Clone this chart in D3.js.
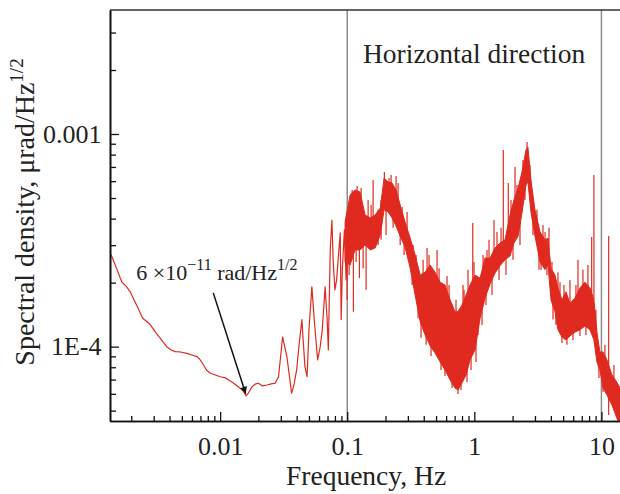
<!DOCTYPE html>
<html>
<head>
<meta charset="utf-8">
<script src="https://cdn.jsdelivr.net/npm/d3@7"></script>
<style>
  body { margin: 0; background: #fff; }
  svg { display: block; font-family: "Liberation Serif", "Times New Roman", serif; }
</style>
</head>
<body>
<svg id="chart" width="620" height="494"></svg>
<script>
// low frequency part of the trace (Hz, urad/Hz^1/2)
var lowHz = [
  1.39e-3, 1.53e-3, 1.68e-3, 1.84e-3, 1.96e-3, 2.2e-3, 2.46e-3, 2.66e-3, 2.82e-3, 3.13e-3,
  3.46e-3, 3.8e-3, 4.12e-3, 4.43e-3, 4.85e-3, 5.5e-3, 6.0e-3, 6.6e-3, 6.97e-3, 7.4e-3,
  7.8e-3, 8.36e-3, 9.15e-3, 0.0100, 0.0110, 0.0123, 0.0133, 0.0144, 0.0152, 0.0160,
  0.0167, 0.0178, 0.0190, 0.0200, 0.0214, 0.0234, 0.0253, 0.0271, 0.0288, 0.0300,
  0.0310, 0.0320, 0.0335, 0.0350, 0.0365, 0.0381, 0.0400, 0.0418, 0.0440, 0.0450,
  0.0465, 0.0483, 0.0500, 0.0527, 0.0550, 0.0585, 0.0613, 0.0636, 0.0670, 0.0695,
  0.0710, 0.0735, 0.0758, 0.0775, 0.0800, 0.0825, 0.0860, 0.0881, 0.0896, 0.0915,
  0.0950, 0.0980, 0.1020
];
var lowPsd = [
  2.70e-4, 2.34e-4, 2.02e-4, 1.91e-4, 1.81e-4, 1.57e-4, 1.36e-4, 1.31e-4, 1.27e-4, 1.16e-4,
  1.075e-4, 1.0e-4, 9.65e-5, 9.47e-5, 9.44e-5, 9.3e-5, 9.14e-5, 8.97e-5, 8.66e-5, 8.2e-5,
  7.77e-5, 7.5e-5, 7.36e-5, 7.22e-5, 7.13e-5, 6.84e-5, 6.6e-5, 6.37e-5, 6.19e-5, 5.86e-5,
  6.05e-5, 6.48e-5, 6.68e-5, 6.73e-5, 6.54e-5, 6.6e-5, 6.68e-5, 6.73e-5, 7.22e-5, 9.14e-5,
  1.11e-4, 1.02e-4, 8.97e-5, 7.36e-5, 6.04e-5, 6.6e-5, 7.77e-5, 1.02e-4, 1.34e-4, 1.075e-4,
  8.05e-5, 7.22e-5, 1.2e-4, 1.91e-4, 1.34e-4, 8.66e-5, 1.0e-4, 1.2e-4, 1.91e-4, 1.34e-4,
  9.65e-5, 2.85e-4, 3.94e-4, 2.56e-4, 1.85e-4, 2.06e-4, 2.85e-4, 3.43e-4, 1.34e-4, 2.3e-4,
  3.54e-4, 2.06e-4, 4.16e-4
];

// noisy part above ~0.1 Hz: lower and upper envelope of the band
var bandHz = [
  0.0962, 0.1054, 0.1153, 0.126, 0.1383, 0.152, 0.1657, 0.182, 0.195, 0.2097,
  0.2254, 0.2423, 0.261, 0.285, 0.313, 0.342, 0.375, 0.41, 0.449, 0.491,
  0.538, 0.588, 0.645, 0.705, 0.744, 0.80, 0.861, 0.925, 1.013, 1.11,
  1.214, 1.33, 1.455, 1.59, 1.743, 1.91, 2.05, 2.21, 2.37, 2.55,
  2.64, 2.79, 3.0, 3.29, 3.60, 3.80, 4.01, 4.31, 4.55, 4.89,
  5.26, 5.66, 6.19, 6.78, 7.42, 8.12, 8.73, 9.22, 9.73, 10.3,
  11.05, 12.1, 13.2, 14.0
];
var bandHi = [
  3.86e-4, 5.17e-4, 5.45e-4, 5.34e-4, 4.16e-4, 4.03e-4, 4.16e-4, 4.49e-4, 6.21e-4, 5.95e-4,
  5.88e-4, 5.45e-4, 4.64e-4, 3.86e-4, 3.24e-4, 2.70e-4, 2.17e-4, 2.24e-4, 2.42e-4, 2.24e-4,
  2.01e-4, 1.95e-4, 1.66e-4, 1.46e-4, 1.46e-4, 1.57e-4, 1.75e-4, 1.95e-4, 2.17e-4, 2.10e-4,
  2.61e-4, 2.61e-4, 2.91e-4, 3.07e-4, 3.18e-4, 4.16e-4, 4.90e-4, 5.57e-4, 6.63e-4, 8.41e-4,
  8.69e-4, 6.08e-4, 4.40e-4, 3.46e-4, 3.18e-4, 3.24e-4, 2.34e-4, 2.17e-4, 1.89e-4, 1.66e-4,
  1.81e-4, 1.60e-4, 1.69e-4, 1.89e-4, 2.01e-4, 1.89e-4, 1.66e-4, 1.17e-4, 9.44e-5, 9.44e-5,
  8.66e-5, 7.36e-5, 6.82e-5, 6.39e-5
];
var bandLo = [
  2.50e-4, 2.42e-4, 2.85e-4, 2.85e-4, 3.01e-4, 2.85e-4, 2.91e-4, 3.35e-4, 4.40e-4, 4.30e-4,
  4.03e-4, 3.69e-4, 3.31e-4, 2.94e-4, 2.34e-4, 1.75e-4, 1.31e-4, 1.135e-4, 1.01e-4, 9.34e-5,
  8.47e-5, 7.77e-5, 6.97e-5, 6.39e-5, 6.25e-5, 6.75e-5, 7.36e-5, 8.66e-5, 9.65e-5, 1.36e-4,
  1.69e-4, 1.97e-4, 2.22e-4, 2.40e-4, 2.56e-4, 2.67e-4, 3.07e-4, 3.31e-4, 4.25e-4, 5.76e-4,
  5.95e-4, 4.30e-4, 3.31e-4, 2.50e-4, 2.30e-4, 2.42e-4, 1.66e-4, 1.46e-4, 1.20e-4, 1.11e-4,
  1.075e-4, 1.123e-4, 1.17e-4, 1.20e-4, 1.25e-4, 1.20e-4, 1.075e-4, 8.47e-5, 7.77e-5, 6.39e-5,
  5.93e-5, 5.32e-5, 4.62e-5, 4.28e-5
];

// single spikes sticking out of the band (from, to)
var spikeHz = [
  0.1093, 0.1196, 0.1286, 0.1598, 0.196, 0.2135, 0.2423, 0.4247, 0.509, 0.610,
  0.83, 0.972, 1.258, 1.428, 1.69, 1.85, 2.09, 2.60, 3.60, 4.72,
  6.54, 8.38, 8.73, 11.4, 0.1118, 0.1247, 0.1334, 0.261, 0.324, 0.381,
  0.4566, 0.588, 0.668, 0.744, 0.876, 1.031, 1.15, 3.35, 4.16, 4.89,
  6.78, 10.3,
  0.0998, 0.1035, 0.1175, 0.1408, 0.146, 0.1542, 0.175, 0.1847, 0.2021, 0.2214,
  0.2295, 0.2512, 0.2702, 0.2802, 0.2957, 0.3297, 0.348, 0.3609, 0.3951, 0.4173,
  0.4405, 0.4735, 0.528, 0.547, 0.6326, 0.6558, 0.7178, 0.7857, 0.8148, 0.892,
  0.942, 0.9945, 1.069, 1.171, 1.236, 1.305, 1.378, 1.508, 1.564, 1.622,
  1.775, 1.943, 2.015, 2.166, 2.287, 2.415, 2.503, 2.741, 2.894, 3.112,
  3.227, 3.469, 3.728, 3.867, 4.082, 4.388, 4.55, 5.073, 5.356, 5.655,
  5.97, 6.303, 7.155, 7.552, 7.832, 9.053, 9.557, 10.65, 12.54, 13.48
];
var spikeFrom = [
  3.54e-4, 3.54e-4, 3.54e-4, 3.18e-4, 4.90e-4, 4.90e-4, 4.90e-4, 1.66e-4, 1.66e-4, 1.20e-4,
  1.20e-4, 1.66e-4, 1.85e-4, 2.42e-4, 2.70e-4, 3.01e-4, 3.94e-4, 6.77e-4, 2.56e-4, 1.49e-4,
  1.49e-4, 1.66e-4, 1.66e-4, 4.77e-5, 2.85e-4, 2.85e-4, 3.01e-4, 3.54e-4, 2.56e-4, 1.66e-4,
  1.34e-4, 1.075e-4, 9.65e-5, 8.66e-5, 9.65e-5, 1.20e-4, 1.66e-4, 2.85e-4, 1.85e-4, 1.34e-4,
  1.34e-4, 7.77e-5,
  3.54e-4, 4.16e-4, 4.90e-4, 3.73e-4, 3.18e-4, 2.85e-4, 3.01e-4, 3.18e-4, 4.40e-4, 4.90e-4,
  4.64e-4, 4.40e-4, 3.54e-4, 3.18e-4, 3.54e-4, 2.42e-4, 1.95e-4, 1.85e-4, 1.66e-4, 1.49e-4,
  1.66e-4, 1.34e-4, 1.49e-4, 1.075e-4, 1.075e-4, 9.65e-5, 1.075e-4, 8.66e-5, 1.20e-4, 1.20e-4,
  1.34e-4, 1.66e-4, 1.66e-4, 2.06e-4, 2.06e-4, 2.30e-4, 2.30e-4, 2.56e-4, 2.70e-4, 2.85e-4,
  2.85e-4, 3.54e-4, 3.35e-4, 4.40e-4, 4.40e-4, 5.45e-4, 6.77e-4, 5.45e-4, 4.40e-4, 3.73e-4,
  3.18e-4, 3.01e-4, 2.85e-4, 2.85e-4, 1.95e-4, 1.75e-4, 1.66e-4, 1.49e-4, 1.34e-4, 1.41e-4,
  1.49e-4, 1.49e-4, 1.66e-4, 1.57e-4, 1.66e-4, 1.075e-4, 8.66e-5, 7.77e-5, 6.25e-5, 5.93e-5
];
var spikeTo = [
  5.45e-4, 5.70e-4, 5.57e-4, 6.08e-4, 6.63e-4, 6.21e-4, 6.35e-4, 2.91e-4, 2.85e-4, 2.15e-4,
  1.85e-4, 3.82e-4, 2.85e-4, 3.94e-4, 8.41e-4, 5.88e-4, 7.0e-4, 9.17e-4, 3.46e-4, 2.01e-4,
  2.56e-4, 3.28e-4, 6.41e-4, 3.31e-4, 1.46e-4, 2.10e-4, 2.34e-4, 3.01e-4, 1.95e-4, 1.10e-4,
  9.04e-5, 7.28e-5, 6.39e-5, 5.99e-5, 6.82e-5, 8.47e-5, 1.265e-4, 2.30e-4, 1.34e-4, 1.04e-4,
  1.123e-4, 6.12e-5,
  1.66e-4, 2.17e-4, 2.50e-4, 1.85e-4, 4.90e-4, 4.64e-4, 4.40e-4, 4.90e-4, 3.35e-4, 6.41e-4,
  3.62e-4, 5.88e-4, 4.54e-4, 2.70e-4, 4.30e-4, 3.01e-4, 2.70e-4, 1.36e-4, 2.56e-4, 1.02e-4,
  2.70e-4, 9.65e-5, 2.34e-4, 7.77e-5, 1.95e-4, 6.97e-5, 1.66e-4, 6.25e-5, 1.95e-4, 2.30e-4,
  7.77e-5, 2.50e-4, 1.135e-4, 2.70e-4, 1.57e-4, 3.18e-4, 1.75e-4, 3.46e-4, 2.06e-4, 3.62e-4,
  2.17e-4, 4.90e-4, 2.56e-4, 5.76e-4, 3.01e-4, 7.55e-4, 4.90e-4, 7.15e-4, 3.35e-4, 4.40e-4,
  2.30e-4, 3.73e-4, 2.17e-4, 3.62e-4, 2.50e-4, 1.265e-4, 2.24e-4, 1.95e-4, 1.02e-4, 2.06e-4,
  1.075e-4, 1.95e-4, 2.30e-4, 1.135e-4, 2.42e-4, 1.49e-4, 7.13e-5, 1.02e-4, 8.2e-5, 4.52e-5
];

var xTickValues = [0.01, 0.1, 1, 10];
var xTickLabels = ["0.01", "0.1", "1", "10"];
var yTickValues = [1e-4, 1e-3];
var yTickLabels = ["1E-4", "0.001"];
var markerHz = [0.1, 10];

// annotation: text anchor, arrow tail and tip in data units
var noteTextAt = [2.19e-3, 2.06e-4];
var noteTail = [8.83e-3, 1.79e-4];
var noteTip = [0.0159, 6.0e-5];

var red = "#e02a20";
var svg = d3.select("#chart");

var x = d3.scaleLog().domain([1.36e-3, 14]).range([110, 620]);
var y = d3.scaleLog().domain([4.47e-5, 3.83e-3]).range([421, 10]);

var minorX = [], minorY = [];
for (var k = -3; k <= 1; k++) {
  for (var m = 2; m <= 9; m++) {
    var v = +(m * Math.pow(10, k)).toPrecision(3);
    if (v > x.domain()[0] && v < x.domain()[1]) minorX.push(v);
  }
}
for (var k = -5; k <= -3; k++) {
  for (var m = 2; m <= 9; m++) {
    var v = +(m * Math.pow(10, k)).toPrecision(3);
    if (v > y.domain()[0] && v < y.domain()[1]) minorY.push(v);
  }
}

svg.append("defs").append("clipPath").attr("id", "plot-clip")
  .append("rect").attr("x", 110).attr("y", 10).attr("width", 510).attr("height", 411);

var plot = svg.append("g").attr("clip-path", "url(#plot-clip)");

// grey marker lines at 0.1 and 10 Hz
plot.selectAll("line.marker").data(markerHz).enter().append("line")
  .attr("class", "marker")
  .attr("x1", d => x(d)).attr("x2", d => x(d))
  .attr("y1", 10).attr("y2", 421)
  .attr("stroke", "#8c8c8c").attr("stroke-width", 1.5);

var idx = d3.range(bandHz.length);
var band = d3.area()
  .x(i => x(bandHz[i]))
  .y0(i => y(bandLo[i]))
  .y1(i => y(bandHi[i]));
plot.append("path")
  .attr("d", band(idx))
  .attr("fill", red)
  .attr("stroke", red)
  .attr("stroke-width", 1);

plot.selectAll("line.spike").data(d3.range(spikeHz.length)).enter().append("line")
  .attr("class", "spike")
  .attr("x1", i => x(spikeHz[i])).attr("x2", i => x(spikeHz[i]))
  .attr("y1", i => y(spikeFrom[i])).attr("y2", i => y(spikeTo[i]))
  .attr("stroke", red).attr("stroke-width", 1.2);

var lowLine = d3.line()
  .x(i => x(lowHz[i]))
  .y(i => y(lowPsd[i]));
plot.append("path")
  .attr("d", lowLine(d3.range(lowHz.length)))
  .attr("fill", "none")
  .attr("stroke", red)
  .attr("stroke-width", 1.2)
  .attr("stroke-linejoin", "round");

// frame: top border plus the two axes
svg.append("line").attr("x1", 110).attr("x2", 620).attr("y1", 10).attr("y2", 10)
  .attr("stroke", "#333").attr("stroke-width", 1.5);

function styleAxis(g) {
  g.selectAll("path.domain").attr("stroke", "#111").attr("stroke-width", 1.6);
  g.selectAll(".tick line").attr("stroke", "#111").attr("stroke-width", 1.3);
}

svg.append("g").attr("transform", "translate(0,421)")
  .call(d3.axisBottom(x).tickValues(minorX).tickSizeInner(-5).tickSizeOuter(0).tickFormat(""))
  .call(styleAxis);
svg.append("g").attr("transform", "translate(0,421)")
  .call(d3.axisBottom(x).tickValues(xTickValues).tickSizeInner(-9).tickSizeOuter(0)
    .tickFormat((d, i) => xTickLabels[i]).tickPadding(16))
  .call(styleAxis)
  .call(g => g.selectAll("text").attr("font-family", "Liberation Serif")
    .attr("font-size", 26).attr("fill", "#222"));

svg.append("g").attr("transform", "translate(110,0)")
  .call(d3.axisLeft(y).tickValues(minorY).tickSizeInner(-6).tickSizeOuter(0).tickFormat(""))
  .call(styleAxis);
svg.append("g").attr("transform", "translate(110,0)")
  .call(d3.axisLeft(y).tickValues(yTickValues).tickSizeInner(-9).tickSizeOuter(0)
    .tickFormat((d, i) => yTickLabels[i]).tickPadding(8.5))
  .call(styleAxis)
  .call(g => g.selectAll("text").attr("font-family", "Liberation Serif")
    .attr("font-size", 26).attr("fill", "#222"));

// titles
svg.append("text")
  .attr("x", 286).attr("y", 485)
  .attr("font-size", 27.5).attr("fill", "#222")
  .text("Frequency, Hz");

var yt = svg.append("text")
  .attr("transform", "translate(34,212) rotate(-90)")
  .attr("text-anchor", "middle")
  .attr("font-size", 28).attr("fill", "#222");
yt.append("tspan").text("Spectral density, \u03bcrad/Hz");
yt.append("tspan").attr("dy", -11).attr("font-size", 19).text("1/2");

svg.append("text")
  .attr("x", 363).attr("y", 63)
  .attr("font-size", 27.5).attr("fill", "#222")
  .text("Horizontal direction");

// annotation with arrow
svg.select("defs").append("marker")
  .attr("id", "arrow").attr("viewBox", "0 0 10 10")
  .attr("refX", 10).attr("refY", 5)
  .attr("markerWidth", 10).attr("markerHeight", 7)
  .attr("markerUnits", "userSpaceOnUse")
  .attr("orient", "auto")
  .append("path").attr("d", "M0,0 L10,5 L0,10 z").attr("fill", "#111");

svg.append("line")
  .attr("x1", x(noteTail[0])).attr("y1", y(noteTail[1]))
  .attr("x2", x(noteTip[0])).attr("y2", y(noteTip[1]))
  .attr("stroke", "#111").attr("stroke-width", 1.5)
  .attr("marker-end", "url(#arrow)");

var note = svg.append("text")
  .attr("x", x(noteTextAt[0])).attr("y", y(noteTextAt[1]))
  .attr("font-size", 22).attr("fill", "#222");
note.append("tspan").text("6 \u00d710");
note.append("tspan").attr("dy", -10).attr("font-size", 16).text("\u221211");
note.append("tspan").attr("dy", 10).text(" rad/Hz");
note.append("tspan").attr("dy", -10).attr("font-size", 16).text("1/2");
</script>
</body>
</html>
